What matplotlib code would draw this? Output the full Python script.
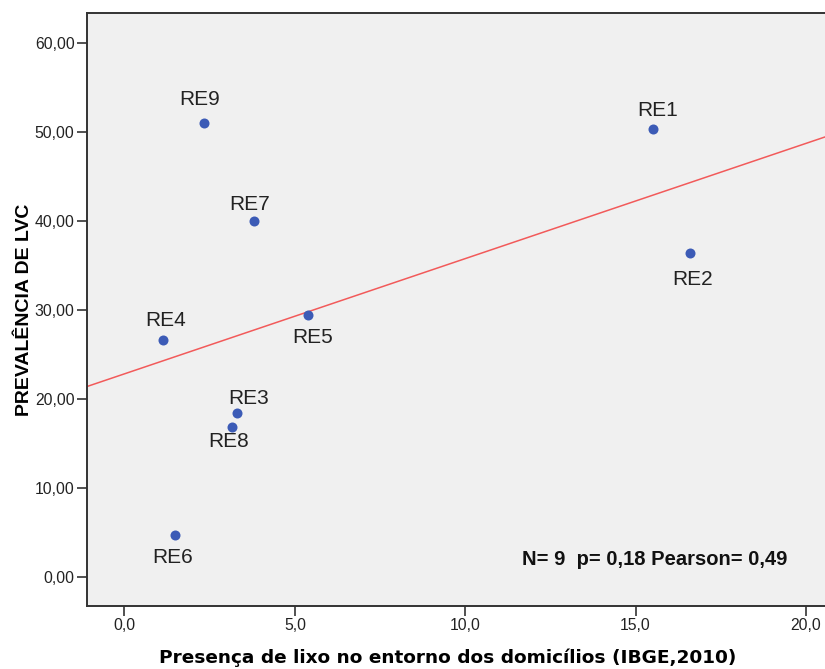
import matplotlib
matplotlib.use("Agg")
import matplotlib.pyplot as plt
import numpy as np

# data
regions = ["RE1", "RE2", "RE3", "RE4", "RE5", "RE6", "RE7", "RE8", "RE9"]
lixo = [15.52, 16.59, 3.29, 1.13, 5.40, 1.48, 3.80, 3.15, 2.34]
prevalencia = [50.4, 36.4, 18.4, 26.6, 29.4, 4.7, 40.0, 16.9, 51.0]
xticks = [0, 5, 10, 15, 20]
yticks = [0, 10, 20, 30, 40, 50, 60]

# label offsets (points) for each region label
offsets = {"RE1": (3, 13), "RE2": (2, -19), "RE3": (9, 11), "RE4": (2, 14),
           "RE5": (3, -16), "RE6": (-2, -16), "RE7": (-3, 12), "RE8": (-2, -11),
           "RE9": (-3, 17)}

plt.rcParams['font.family'] = ['Liberation Sans', 'DejaVu Sans']

fig = plt.figure(figsize=(8.25, 6.69), dpi=100)
ax = fig.add_axes([87/825, 63/669, 1 - 87/825 + 0.01, (606-13)/669])
ax.set_facecolor('#f0f0f0')

x = np.array(lixo)
y = np.array(prevalencia)

ax.set_xlim(-1.1, 20.8)
ax.set_ylim(-3.26, 63.4)

# fit line
b, a = np.polyfit(x, y, 1)
xl = np.array(ax.get_xlim())
ax.plot(xl, a + b*xl, color='#f25a5a', lw=1.1, zorder=2)

ax.scatter(x, y, s=52, color='#3c5bb6', zorder=3, linewidths=0)
for r, xi, yi in zip(regions, x, y):
    ax.annotate(r, (xi, yi), xytext=offsets[r], textcoords='offset points',
                ha='center', va='center', fontsize=15, color='#222222')

ax.set_xticks(xticks)
ax.set_xticklabels([f"{v:.1f}".replace('.', ',') for v in xticks])
ax.set_yticks(yticks)
ax.set_yticklabels([f"{v:.2f}".replace('.', ',') for v in yticks])
ax.tick_params(direction='out', length=7, width=1.2, color='#333333',
               labelsize=11.3, labelcolor='#222222', pad=2)

for sp in ['left', 'bottom', 'top']:
    ax.spines[sp].set_color('#333333')
    ax.spines[sp].set_linewidth(1.4)
ax.spines['right'].set_visible(False)

ax.set_xlabel("Presença de lixo no entorno dos domicílios (IBGE,2010)",
              fontsize=13.3, fontweight='bold', family=['DejaVu Sans'], labelpad=11)
ax.xaxis.set_label_coords(0.483, -0.072)
ax.set_ylabel("PREVALÊNCIA DE LVC", fontsize=14, fontweight='bold', labelpad=1)

ax.text(0.583, 0.079, "N= 9  p= 0,18 Pearson= 0,49", transform=ax.transAxes,
        ha='left', va='center', fontsize=14.5, fontweight='bold', color='#111111')

plt.savefig("out.png", dpi=100)
